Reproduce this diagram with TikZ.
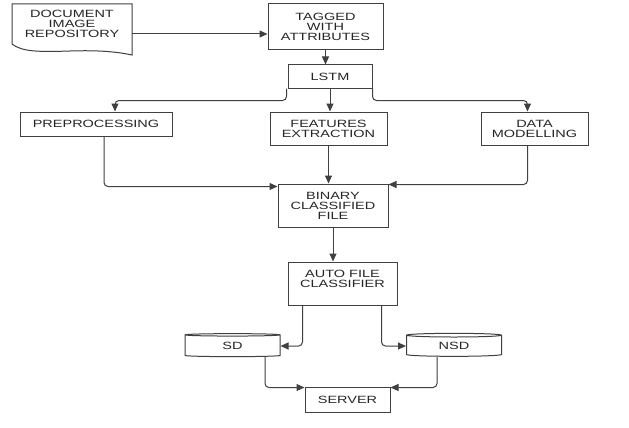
\documentclass[tikz,border=0pt]{standalone}
\usepackage{fontspec}
\setmainfont{Liberation Sans}[FakeStretch=1.38]
\usepackage{tikz}
\usetikzlibrary{arrows.meta,positioning,shapes.geometric}

\begin{document}
\begin{tikzpicture}[
    x=1pt, y=-1pt,
    >={Triangle[length=8pt,width=7pt]},
    font=\fontsize{10.5}{10}\selectfont,
    every node/.style={text=black!85},
    box/.style={
        draw=black!75,
        line width=1pt,
        fill=white,
        inner sep=0pt,
        align=center
    },
    db/.style={
        draw=black!75,
        line width=1pt,
        fill=white,
        cylinder,
        shape border rotate=90,
        aspect=0.12,
        inner sep=0pt,
        minimum width=95pt,
        minimum height=23pt
    },
    arr/.style={->, line width=1pt, draw=black!75, rounded corners=4pt}
]
\path[use as bounding box, fill=white] (0,0) rectangle (629,428);

% document shape with wavy bottom
\draw[draw=black!75, line width=1pt, fill=white]
    (12,4) -- (132,4) -- (132,55)
    .. controls (118,52) and (100,50) .. (70,51)
    .. controls (40,52) and (22,52) .. (12,44) -- cycle;
\node[align=center, inner sep=0pt, minimum width=120pt] (doc) at (72,24)
    {DOCUMENT\\IMAGE\\REPOSITORY};

% upper part
\node[box, minimum width=115pt, minimum height=46pt] (tag) at (325.5,27)
    {TAGGED\\WITH\\ATTRIBUTES};
\node[box, minimum width=84pt, minimum height=23pt] (lstm) at (330,76.5) {LSTM};

\node[box, minimum width=152pt, minimum height=24pt] (pre) at (96,124) {PREPROCESSING};
\node[box, minimum width=117pt, minimum height=33pt] (feat) at (328.5,128.5)
    {FEATURES\\EXTRACTION};
\node[box, minimum width=107pt, minimum height=33pt] (data) at (534.5,128.5)
    {DATA\\MODELLING};

% lower part
\node[box, minimum width=110pt, minimum height=43pt] (bin) at (333,205.5)
    {BINARY\\CLASSIFIED\\FILE};
\node[box, minimum width=109pt, minimum height=43pt] (auto) at (342.5,283.5)
    {AUTO FILE\\CLASSIFIER\\\mbox{}};

\node[db] (sd) at (232.5,346) {SD};
\node[db] (nsd) at (454,346) {NSD};

\node[box, minimum width=85pt, minimum height=25pt] (server) at (347.5,399.5) {SERVER};

% connectors
\draw[arr] ([yshift=-10pt]doc.east) -- ([yshift=-7pt]tag.west);
\draw[arr] (tag.south) -- (tag.south |- lstm.north);

\draw[arr] ([xshift=-1pt]lstm.south west) -- ++(0,12) -| ([xshift=19pt]pre.north);
\draw[arr] (lstm.south) -- (lstm.south |- feat.north);
\draw[arr] (lstm.south east) -- ++(0,12) -| ([xshift=-7pt]data.north);

\draw[arr] ([xshift=8pt]pre.south) |- ([yshift=-3pt]bin.north west);
\draw[arr] (feat.south) -- (feat.south |- bin.north);
\draw[arr] ([xshift=-7pt]data.south) |- ([yshift=-1pt]bin.north east);

\draw[arr] (bin.south) -- (bin.south |- auto.north);

\draw[arr] ([xshift=15pt]auto.south west) |- (sd.east);
\draw[arr] ([xshift=-16pt]auto.south east) |- (nsd.west);

\draw[arr] ([xshift=32.5pt]sd.south) |- ([yshift=-1pt]server.north west);
\draw[arr] ([xshift=-17pt]nsd.south) |- ([yshift=-1pt]server.north east);

\end{tikzpicture}
\end{document}
